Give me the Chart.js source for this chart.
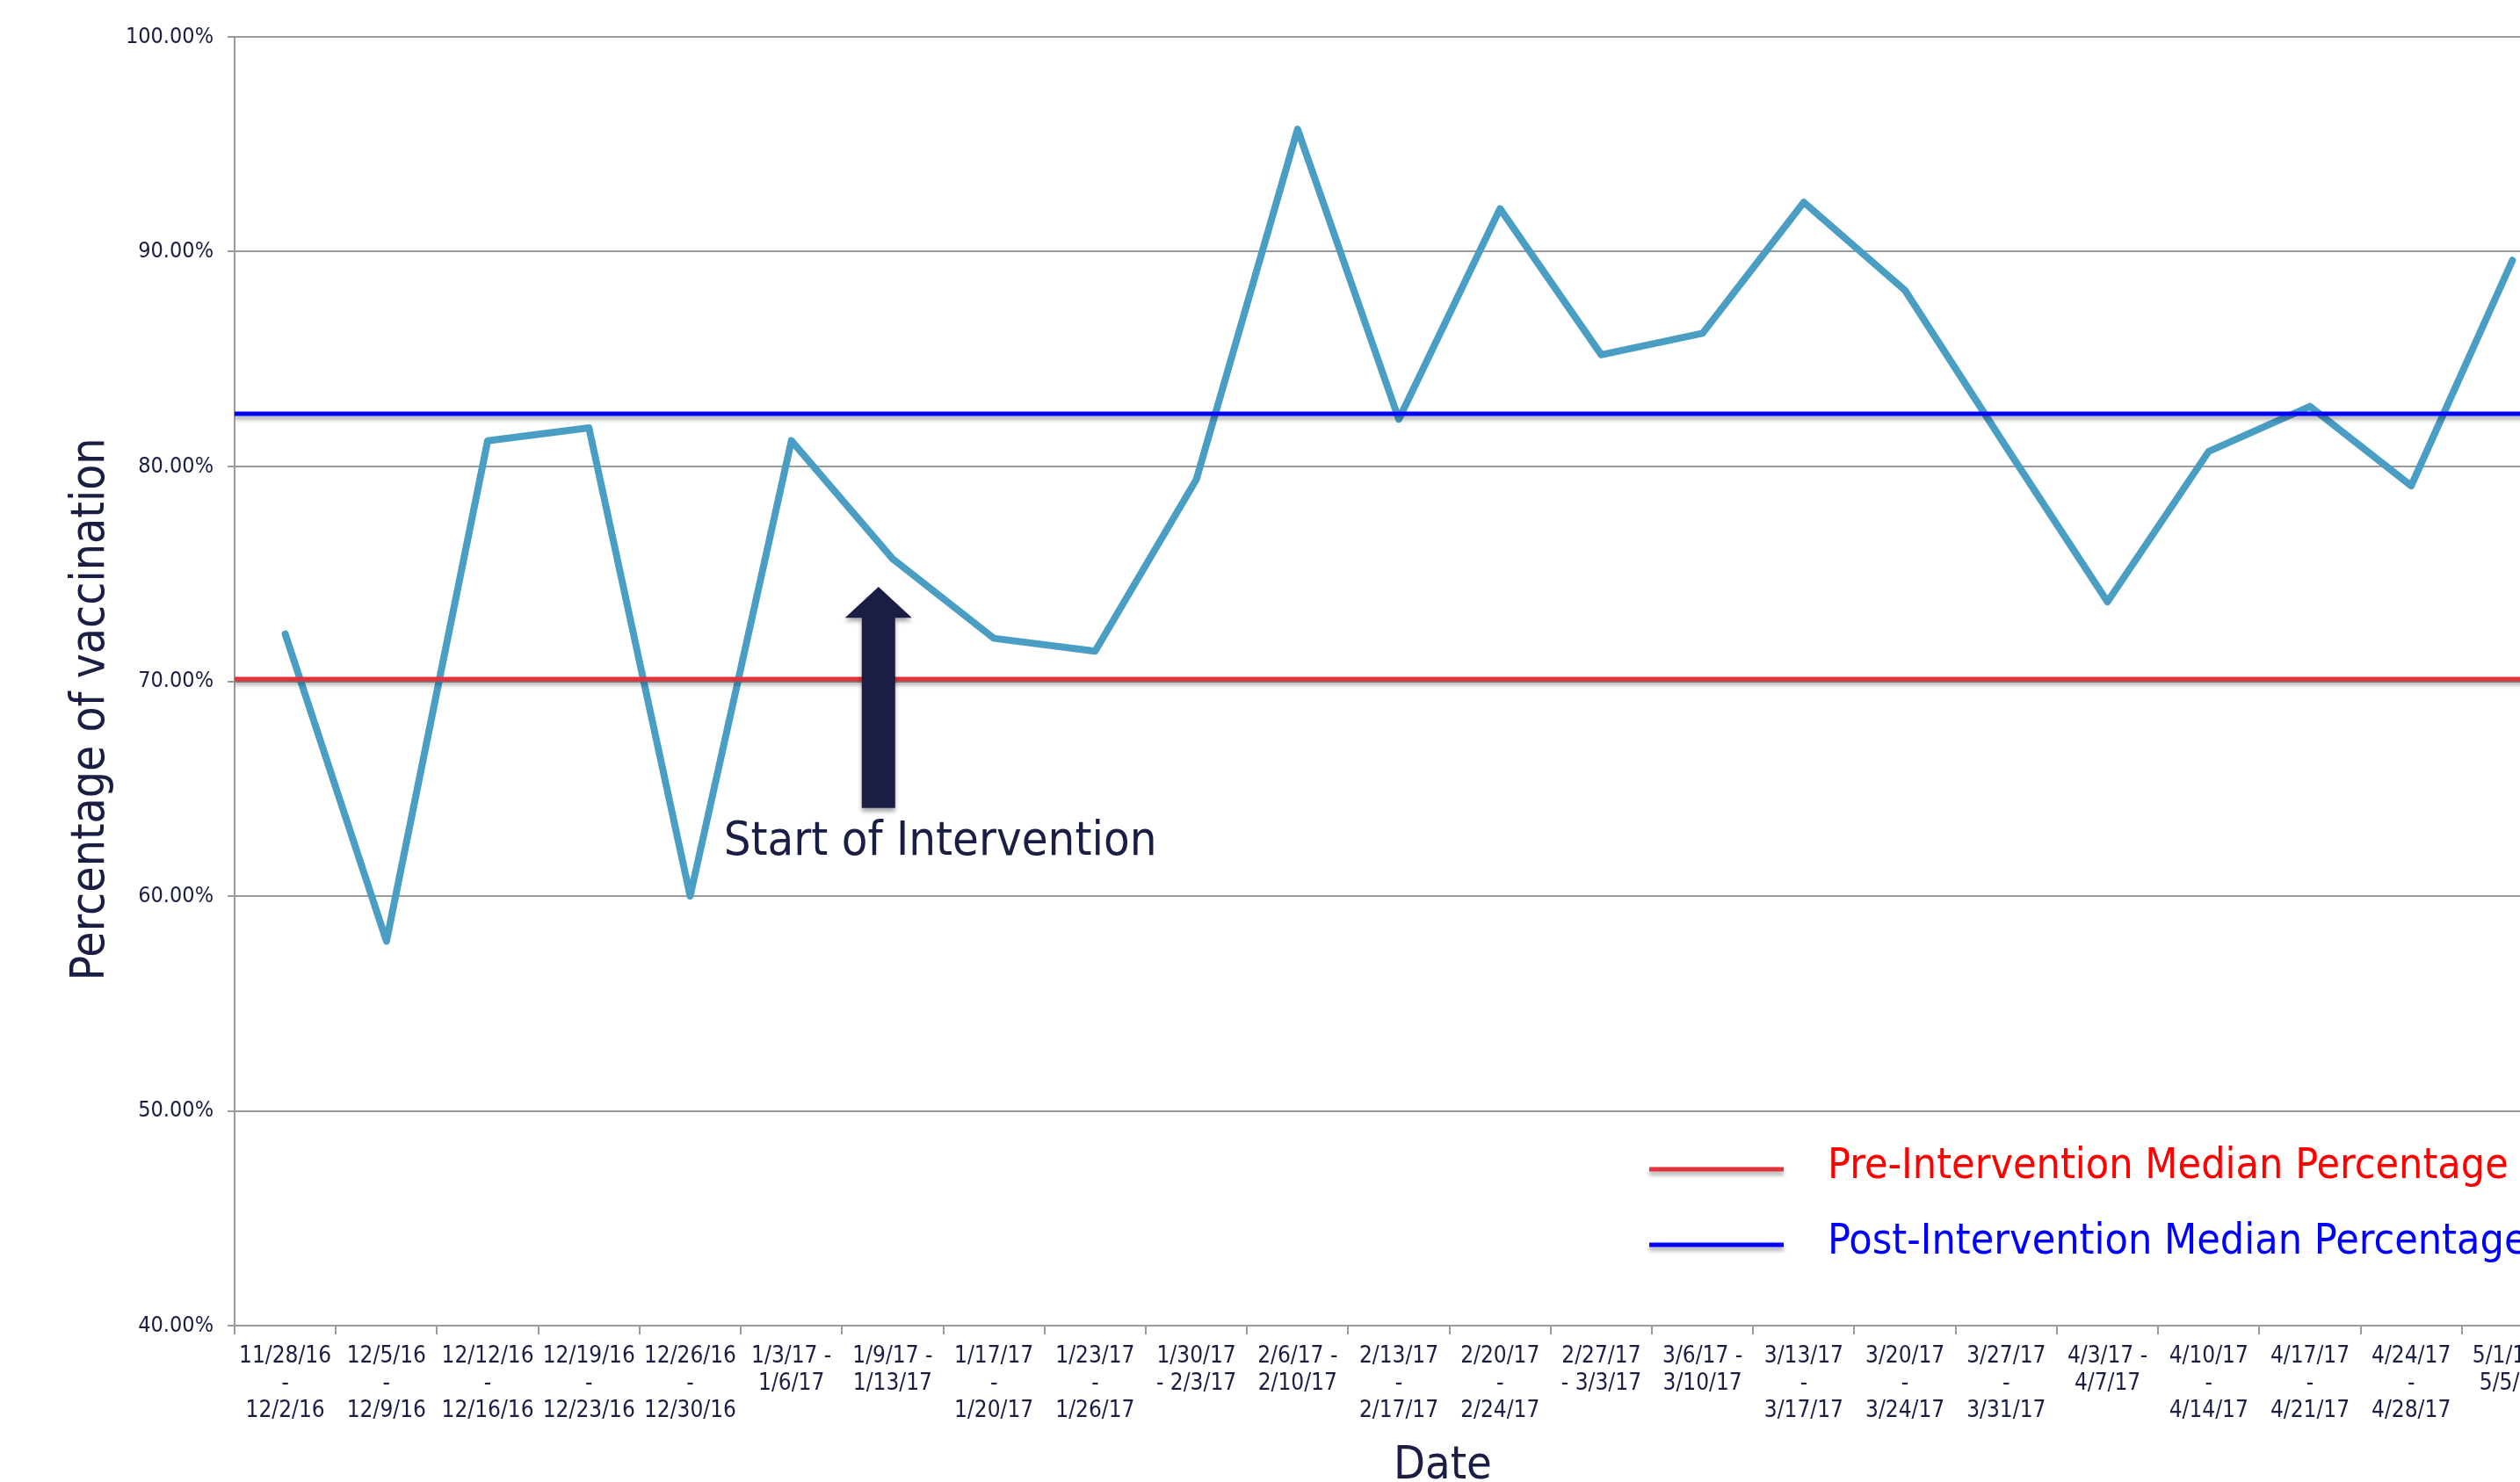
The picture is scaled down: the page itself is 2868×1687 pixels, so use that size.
<!DOCTYPE html>
<html lang="en">
<head>
    <meta charset="UTF-8">
    <title>Percentage of vaccination</title>
    <script src="https://cdn.jsdelivr.net/npm/chart.js"></script>
    <style>
        html, body {
            margin: 0;
            padding: 0;
            background: #fff;
            overflow: hidden;
        }
        .wrap {
            width: 2868px;
            height: 1687px;
            overflow: hidden;
        }
        #vacChart {
            display: block;
        }
    </style>
</head>
<body>
<div class="wrap">
    <canvas id="vacChart" width="2917" height="1700"></canvas>
</div>

<script>
    // weekly ranges (Excel wrapped them onto 2 or 3 lines)
    const weeks = [
        ['11/28/16', '-', '12/2/16'], ['12/5/16', '-', '12/9/16'], ['12/12/16', '-', '12/16/16'],
        ['12/19/16', '-', '12/23/16'], ['12/26/16', '-', '12/30/16'], ['1/3/17 -', '1/6/17'],
        ['1/9/17 -', '1/13/17'], ['1/17/17', '-', '1/20/17'], ['1/23/17', '-', '1/26/17'],
        ['1/30/17', '- 2/3/17'], ['2/6/17 -', '2/10/17'], ['2/13/17', '-', '2/17/17'],
        ['2/20/17', '-', '2/24/17'], ['2/27/17', '- 3/3/17'], ['3/6/17 -', '3/10/17'],
        ['3/13/17', '-', '3/17/17'], ['3/20/17', '-', '3/24/17'], ['3/27/17', '-', '3/31/17'],
        ['4/3/17 -', '4/7/17'], ['4/10/17', '-', '4/14/17'], ['4/17/17', '-', '4/21/17'],
        ['4/24/17', '-', '4/28/17'], ['5/1/17 -', '5/5/17']
    ];
    const vaccinationPct = [72.2, 57.9, 81.2, 81.8, 60.0, 81.2, 75.7, 72.0, 71.4, 79.4, 95.7, 82.2,
        92.0, 85.2, 86.2, 92.3, 88.2, 80.9, 73.7, 80.7, 82.8, 79.1, 89.6];
    const preMedian = 70.1;
    const postMedian = 82.45;
    const yTicks = [40, 50, 60, 70, 80, 90, 100];

    // annotation: arrow at week index 5.86, from 64.1% up to 74.4%
    const arrowX = 5.86;
    const arrowFrom = 64.1;
    const arrowHeadBase = 72.95;
    const arrowTip = 74.4;
    const noteX = 6.47;
    const noteY = 62.5;

    const navy = '#1b1e44';
    const grey = '#9a9a9e';
    const condensed = '"DejaVu Sans Condensed", "DejaVu Sans", sans-serif';
    const narrow = '"Liberation Sans Narrow", "DejaVu Sans Condensed", sans-serif';

    const shadowPlugin = {
        id: 'shadows',
        beforeDatasetDraw(chart, args) {
            const ds = chart.data.datasets[args.index];
            if (!ds.shadow) return;
            const ctx = chart.ctx;
            ctx.save();
            ctx.shadowColor = 'rgba(0,0,0,0.35)';
            ctx.shadowBlur = 5;
            ctx.shadowOffsetY = 4;
        },
        afterDatasetDraw(chart, args) {
            const ds = chart.data.datasets[args.index];
            if (ds.shadow) chart.ctx.restore();
        }
    };

    const arrowPlugin = {
        id: 'arrowNote',
        afterDatasetsDraw(chart) {
            const ctx = chart.ctx;
            const xs = chart.scales.x;
            const ys = chart.scales.y;
            const cx = xs.getPixelForValue(arrowX);
            const yTip = ys.getPixelForValue(arrowTip);
            const yBase = ys.getPixelForValue(arrowHeadBase);
            const yEnd = ys.getPixelForValue(arrowFrom);
            const shaft = 19, head = 38;
            ctx.save();
            ctx.shadowColor = 'rgba(0,0,0,0.35)';
            ctx.shadowBlur = 5;
            ctx.shadowOffsetY = 4;
            ctx.fillStyle = navy;
            ctx.beginPath();
            ctx.moveTo(cx, yTip);
            ctx.lineTo(cx + head, yBase);
            ctx.lineTo(cx + shaft, yBase);
            ctx.lineTo(cx + shaft, yEnd);
            ctx.lineTo(cx - shaft, yEnd);
            ctx.lineTo(cx - shaft, yBase);
            ctx.lineTo(cx - head, yBase);
            ctx.closePath();
            ctx.fill();
            ctx.restore();

            ctx.save();
            ctx.fillStyle = navy;
            ctx.font = '54px ' + condensed;
            ctx.textAlign = 'center';
            ctx.textBaseline = 'middle';
            ctx.fillText('Start of Intervention', xs.getPixelForValue(noteX), ys.getPixelForValue(noteY));
            ctx.restore();
        }
    };

    const legendPlugin = {
        id: 'boxLegend',
        afterDraw(chart) {
            const ctx = chart.ctx;
            const area = chart.chartArea;
            const items = chart.data.datasets.filter(d => d.inLegend);
            const x0 = area.left + 1610;
            items.forEach((d, i) => {
                const y = area.bottom - 178 + i * 86;
                ctx.save();
                ctx.shadowColor = 'rgba(0,0,0,0.35)';
                ctx.shadowBlur = 5;
                ctx.shadowOffsetY = 4;
                ctx.strokeStyle = d.borderColor;
                ctx.lineWidth = d.borderWidth;
                ctx.beginPath();
                ctx.moveTo(x0, y);
                ctx.lineTo(x0 + 153, y);
                ctx.stroke();
                ctx.restore();
                ctx.save();
                ctx.fillStyle = d.textColor;
                ctx.font = '48px ' + condensed;
                ctx.textBaseline = 'middle';
                ctx.fillText(d.label, x0 + 203, y - 2);
                ctx.restore();
            });
        }
    };

    // axis titles, placed where the original put them
    const titlesPlugin = {
        id: 'axisTitles',
        afterDraw(chart) {
            const ctx = chart.ctx;
            const area = chart.chartArea;
            ctx.save();
            ctx.fillStyle = navy;
            ctx.font = '53px ' + condensed;
            ctx.textAlign = 'center';
            ctx.textBaseline = 'middle';
            ctx.translate(104, (area.top + area.bottom) / 2 + 32);
            ctx.rotate(-Math.PI / 2);
            ctx.fillText('Percentage of vaccination', 0, 0);
            ctx.restore();

            ctx.save();
            ctx.fillStyle = navy;
            ctx.font = '52px ' + condensed;
            ctx.textAlign = 'center';
            ctx.textBaseline = 'middle';
            ctx.fillText('Date', 1642, 1669);
            ctx.restore();
        }
    };

    const ctx = document.getElementById('vacChart').getContext('2d');
    new Chart(ctx, {
        type: 'line',
        data: {
            labels: weeks,
            datasets: [{
                label: 'Pre-Intervention Median Percentage',
                data: [{x: 0, y: preMedian}, {x: 1, y: preMedian}],
                xAxisID: 'xm',
                borderColor: '#e4323a',
                textColor: '#ff0000',
                borderWidth: 5,
                pointRadius: 0,
                shadow: true,
                inLegend: true,
                order: 0
            }, {
                label: 'Post-Intervention Median Percentage',
                data: [{x: 0, y: postMedian}, {x: 1, y: postMedian}],
                xAxisID: 'xm',
                borderColor: '#0000ff',
                textColor: '#0000ff',
                borderWidth: 5,
                pointRadius: 0,
                shadow: true,
                inLegend: true,
                order: 0
            }, {
                label: 'Percentage of vaccination',
                data: vaccinationPct,
                xAxisID: 'x',
                borderColor: '#4a9ec4',
                borderWidth: 8,
                borderJoinStyle: 'round',
                borderCapStyle: 'round',
                pointRadius: 0,
                tension: 0,
                fill: false,
                order: 1
            }]
        },
        plugins: [shadowPlugin, arrowPlugin, legendPlugin, titlesPlugin],
        options: {
            responsive: false,
            animation: false,
            devicePixelRatio: 1,
            layout: {padding: {top: 42, right: 0, bottom: 0, left: 0}},
            plugins: {
                legend: {display: false},
                tooltip: {enabled: false}
            },
            scales: {
                x: {
                    type: 'category',
                    offset: true,
                    afterFit: s => { s.height = 191; },
                    grid: {
                        offset: true,
                        drawOnChartArea: false,
                        drawTicks: true,
                        tickLength: 10,
                        color: grey,
                        lineWidth: 2
                    },
                    border: {display: true, color: grey, width: 2},
                    ticks: {
                        autoSkip: false,
                        maxRotation: 0,
                        minRotation: 0,
                        padding: 10,
                        color: navy,
                        font: {family: condensed, size: 26, lineHeight: 1.19}
                    }
                },
                xm: {
                    type: 'linear',
                    display: false,
                    min: 0,
                    max: 1
                },
                y: {
                    min: 40,
                    max: 100,
                    afterFit: s => { s.width = 267; },
                    afterBuildTicks: s => { s.ticks = yTicks.map(v => ({value: v})); },
                    grid: {
                        color: grey,
                        lineWidth: 2,
                        tickLength: 8
                    },
                    border: {display: true, color: grey, width: 2},
                    ticks: {
                        padding: 16,
                        color: navy,
                        font: {family: narrow, size: 25},
                        callback: v => v.toFixed(2) + '%'
                    }
                }
            }
        }
    });
</script>
</body>
</html>
